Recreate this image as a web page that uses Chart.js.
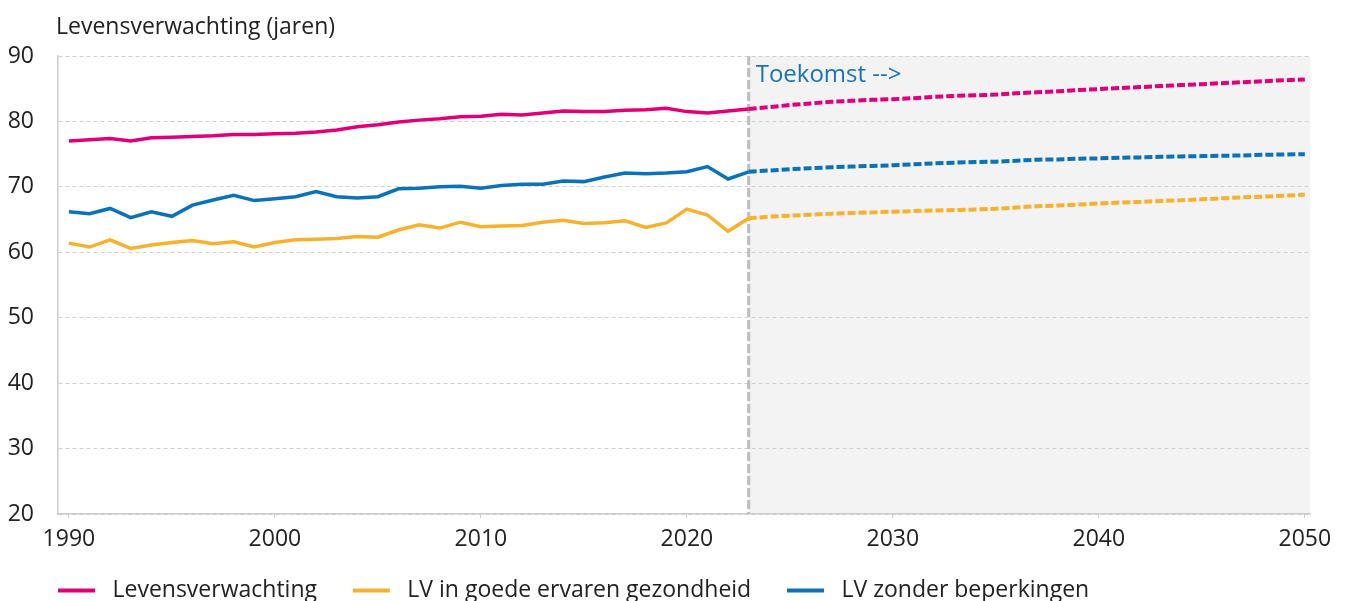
<!DOCTYPE html>
<html lang="nl">
<head>
<meta charset="utf-8">
<title>Levensverwachting</title>
<script src="https://cdn.jsdelivr.net/npm/chart.js@4/dist/chart.umd.min.js"></script>
<style>
  html, body { margin: 0; padding: 0; background: #fff; overflow: hidden; }
  #wrap { width: 1348px; height: 612px; position: relative; }
</style>
</head>
<body>
<div id="wrap"><canvas id="grafiek"></canvas></div>
<script>
// gemeten jaren en prognose
const jarenGemeten = [1990, 1991, 1992, 1993, 1994, 1995, 1996, 1997, 1998, 1999,
  2000, 2001, 2002, 2003, 2004, 2005, 2006, 2007, 2008, 2009,
  2010, 2011, 2012, 2013, 2014, 2015, 2016, 2017, 2018, 2019,
  2020, 2021, 2022, 2023];
const jarenPrognose = [2023, 2024, 2025, 2026, 2027, 2028, 2029, 2030, 2031, 2032,
  2033, 2034, 2035, 2036, 2037, 2038, 2039, 2040, 2041, 2042,
  2043, 2044, 2045, 2046, 2047, 2048, 2049, 2050];

const lvGemeten = [77.0, 77.2, 77.4, 77.0, 77.5, 77.6, 77.7, 77.8, 78.0, 78.0,
  78.1, 78.2, 78.4, 78.7, 79.2, 79.5, 79.9, 80.2, 80.4, 80.7,
  80.8, 81.1, 81.0, 81.3, 81.6, 81.5, 81.5, 81.7, 81.8, 82.0,
  81.5, 81.3, 81.6, 81.9];
const gezondGemeten = [61.4, 60.8, 61.9, 60.6, 61.1, 61.5, 61.8, 61.3, 61.6, 60.8,
  61.5, 61.9, 62.0, 62.1, 62.4, 62.3, 63.4, 64.2, 63.7, 64.6,
  63.9, 64.0, 64.1, 64.6, 64.9, 64.4, 64.5, 64.8, 63.8, 64.5,
  66.6, 65.7, 63.2, 65.2];
const zonderBepGemeten = [66.2, 65.9, 66.7, 65.3, 66.2, 65.5, 67.2, 68.0, 68.7, 67.9,
  68.2, 68.5, 69.3, 68.5, 68.3, 68.5, 69.7, 69.8, 70.0, 70.1,
  69.8, 70.2, 70.4, 70.4, 70.9, 70.8, 71.5, 72.1, 72.0, 72.1,
  72.3, 73.1, 71.2, 72.3];

const lvPrognose = [81.9, 82.2, 82.5, 82.75, 83.0, 83.15, 83.3, 83.4, 83.55, 83.75,
  83.9, 84.0, 84.1, 84.3, 84.45, 84.6, 84.8, 84.95, 85.1, 85.25,
  85.4, 85.55, 85.7, 85.85, 86.0, 86.15, 86.3, 86.4];
const gezondPrognose = [65.2, 65.45, 65.6, 65.75, 65.9, 66.0, 66.1, 66.2, 66.3, 66.4,
  66.45, 66.55, 66.65, 66.85, 67.05, 67.15, 67.3, 67.45, 67.6, 67.7,
  67.85, 67.95, 68.1, 68.25, 68.4, 68.5, 68.65, 68.8];
const zonderBepPrognose = [72.3, 72.5, 72.7, 72.85, 73.0, 73.1, 73.2, 73.3, 73.45, 73.6,
  73.7, 73.8, 73.85, 74.0, 74.15, 74.2, 74.3, 74.35, 74.45, 74.5,
  74.6, 74.65, 74.7, 74.75, 74.8, 74.9, 74.95, 75.0];

const reeksNamen = ['Levensverwachting', 'LV in goede ervaren gezondheid', 'LV zonder beperkingen'];
const xTickJaren = [1990, 2000, 2010, 2020, 2030, 2040, 2050];
const yTickWaarden = [20, 30, 40, 50, 60, 70, 80, 90];
const toekomstVanaf = 2023;
const titelTekst = 'Levensverwachting (jaren)';
const toekomstTekst = 'Toekomst -->';

const kleuren = ['#e2007a', '#f9b12d', '#0a72ba'];
const lettertype = '"Open Sans", "Noto Sans", sans-serif';

function punten(jaren, waarden) {
  return jaren.map((j, i) => ({ x: j, y: waarden[i] }));
}

function lijn(label, jaren, waarden, kleur, gestreept) {
  return {
    label: label,
    data: punten(jaren, waarden),
    borderColor: kleur,
    backgroundColor: kleur,
    borderWidth: gestreept ? 4 : 3.5,
    borderDash: gestreept ? [8, 3] : [],
    pointRadius: 0,
    pointHoverRadius: 0,
    tension: 0
  };
}

const toekomstVlak = {
  id: 'toekomstVlak',
  beforeDraw(chart) {
    const { ctx, chartArea, scales } = chart;
    const x0 = scales.x.getPixelForValue(toekomstVanaf);
    ctx.save();
    ctx.fillStyle = '#f3f3f3';
    ctx.fillRect(x0, chartArea.top, chartArea.right - x0, chartArea.bottom - chartArea.top);
    ctx.restore();
  },
  beforeDatasetsDraw(chart) {
    const { ctx, chartArea, scales } = chart;
    const x0 = scales.x.getPixelForValue(toekomstVanaf);
    ctx.save();
    ctx.strokeStyle = '#bdbdbd';
    ctx.lineWidth = 3;
    ctx.setLineDash([9, 3]);
    ctx.beginPath();
    ctx.moveTo(x0, chartArea.top);
    ctx.lineTo(x0, chartArea.bottom);
    ctx.stroke();
    ctx.restore();
  },
  afterDraw(chart) {
    const { ctx, chartArea, scales } = chart;
    const x0 = scales.x.getPixelForValue(toekomstVanaf);
    ctx.save();
    ctx.textBaseline = 'alphabetic';
    ctx.font = '23px ' + lettertype;
    ctx.fillStyle = '#222';
    ctx.fillText(titelTekst, chartArea.left - 2, 34);
    ctx.font = '24px ' + lettertype;
    ctx.fillStyle = '#1b72b8';
    ctx.fillText(toekomstTekst, x0 + 7, chartArea.top + 26);
    ctx.restore();
  }
};

Chart.defaults.font.family = lettertype;
Chart.defaults.font.size = 23;
Chart.defaults.color = '#222';

// ruimte tussen legenda-items
const legendaTussenruimte = '      ';

new Chart(document.getElementById('grafiek'), {
  type: 'line',
  data: {
    datasets: [
      lijn(reeksNamen[0], jarenGemeten, lvGemeten, kleuren[0], false),
      lijn(reeksNamen[1], jarenGemeten, gezondGemeten, kleuren[1], false),
      lijn(reeksNamen[2], jarenGemeten, zonderBepGemeten, kleuren[2], false),
      lijn(reeksNamen[0] + ' prognose', jarenPrognose, lvPrognose, kleuren[0], true),
      lijn(reeksNamen[1] + ' prognose', jarenPrognose, gezondPrognose, kleuren[1], true),
      lijn(reeksNamen[2] + ' prognose', jarenPrognose, zonderBepPrognose, kleuren[2], true)
    ]
  },
  options: {
    responsive: true,
    maintainAspectRatio: false,
    animation: false,
    layout: { padding: { left: 0, right: 38, top: 56, bottom: 0 } },
    scales: {
      x: {
        type: 'linear',
        min: 1989.47,
        max: 2050.25,
        afterBuildTicks: schaal => { schaal.ticks = xTickJaren.map(v => ({ value: v })); },
        afterFit: schaal => { schaal.height = 65; },
        grid: { drawOnChartArea: false, drawTicks: true, tickLength: 4, color: '#cccccc' },
        border: { display: true, color: '#cccccc', width: 1.5 },
        ticks: { padding: 8, maxRotation: 0, callback: v => String(v) }
      },
      y: {
        min: 20,
        max: 90,
        afterBuildTicks: schaal => { schaal.ticks = yTickWaarden.map(v => ({ value: v })); },
        afterFit: schaal => { schaal.width = 58; },
        grid: { drawTicks: false, color: '#d0d0d0', lineWidth: 1 },
        border: { display: true, color: '#cccccc', width: 1.5, dash: [4, 3] },
        ticks: { padding: 24 }
      }
    },
    plugins: {
      title: { display: false },
      tooltip: { enabled: false },
      legend: {
        position: 'bottom',
        align: 'start',
        fullSize: false,
        labels: {
          boxWidth: 37,
          boxHeight: 4,
          padding: 0,
          font: { size: 23 },
          color: '#222',
          generateLabels: chart => Chart.defaults.plugins.legend.labels.generateLabels(chart)
            .filter(item => item.datasetIndex < 3)
            .map(item => Object.assign(item, {
              lineWidth: 0,
              lineDash: [],
              text: ' ' + item.text + legendaTussenruimte
            }))
        }
      }
    }
  },
  plugins: [toekomstVlak]
});
</script>
</body>
</html>
